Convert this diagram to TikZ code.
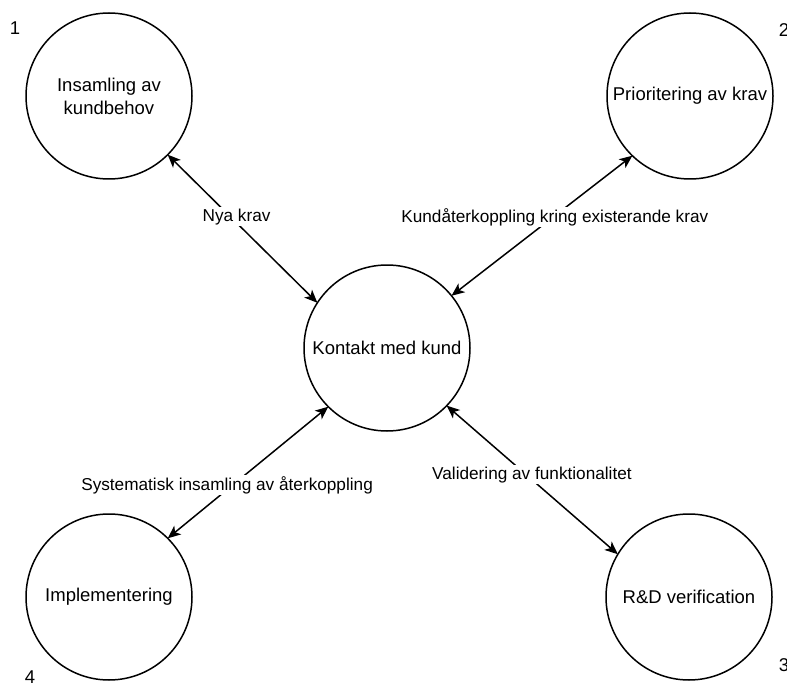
\documentclass[tikz,border=0pt]{standalone}
\usepackage{fontspec}
\setmainfont{Liberation Sans}
\usetikzlibrary{arrows.meta}
\begin{document}
\begin{tikzpicture}[x=1pt,y=-1pt,
  txt/.style={font=\fontsize{18.5}{23}\selectfont, text=black},
  circ/.style={txt, circle, draw=black, line width=1.5pt, minimum size=166pt,
               inner sep=0pt, outer sep=0pt, align=center},
  conn/.style={line width=1.5pt, draw=black,
               {Stealth[length=13pt,width=11pt,inset=3.5pt]}-{Stealth[length=13pt,width=11pt,inset=3.5pt]}},
  lbl/.style={font=\fontsize{17.2}{21}\selectfont, text=black, fill=white, inner sep=1.5pt},
  num/.style={txt, inner sep=0pt}]
\useasboundingbox (0,0) rectangle (787,687);
\fill[white] (0,0) rectangle (787,687);

% circles
\node[circ] (c1)  at (109,96)  {Insamling av\\kundbehov};
\node[circ] (c2)  at (690,96)  {Prioritering av krav};
\node[circ] (ctr) at (387,348) {Kontakt med kund};
\node[circ] (c4)  at (109,597) {Implementering};
\node[circ] (c3)  at (689,597) {R\&D verification};

% numbers
\node[num] (n1) at (15,28)  {1};
\node[num] (n2) at (784,30) {2};
\node[num] (n3) at (784,665) {3};
\node[num] (n4) at (30,677) {4};

% connectors
\draw[conn] (c1.-45) -- node[lbl, pos=0.42, xshift=6pt] (l1) {Nya krav} (ctr.147);
\draw[conn] (ctr.39) -- node[lbl, pos=0.563, xshift=1.5pt] (l2) {Kundåterkoppling kring existerande krav} (c2.226);
\draw[conn] (ctr.225) -- node[lbl, pos=0.596, xshift=-5.5pt] (l3) {Systematisk insamling av återkoppling} (c4.45);
\draw[conn] (ctr.-44) -- node[lbl, pos=0.466, xshift=5.5pt] (l4) {Validering av funktionalitet} (c3.149);
\end{tikzpicture}
\end{document}
